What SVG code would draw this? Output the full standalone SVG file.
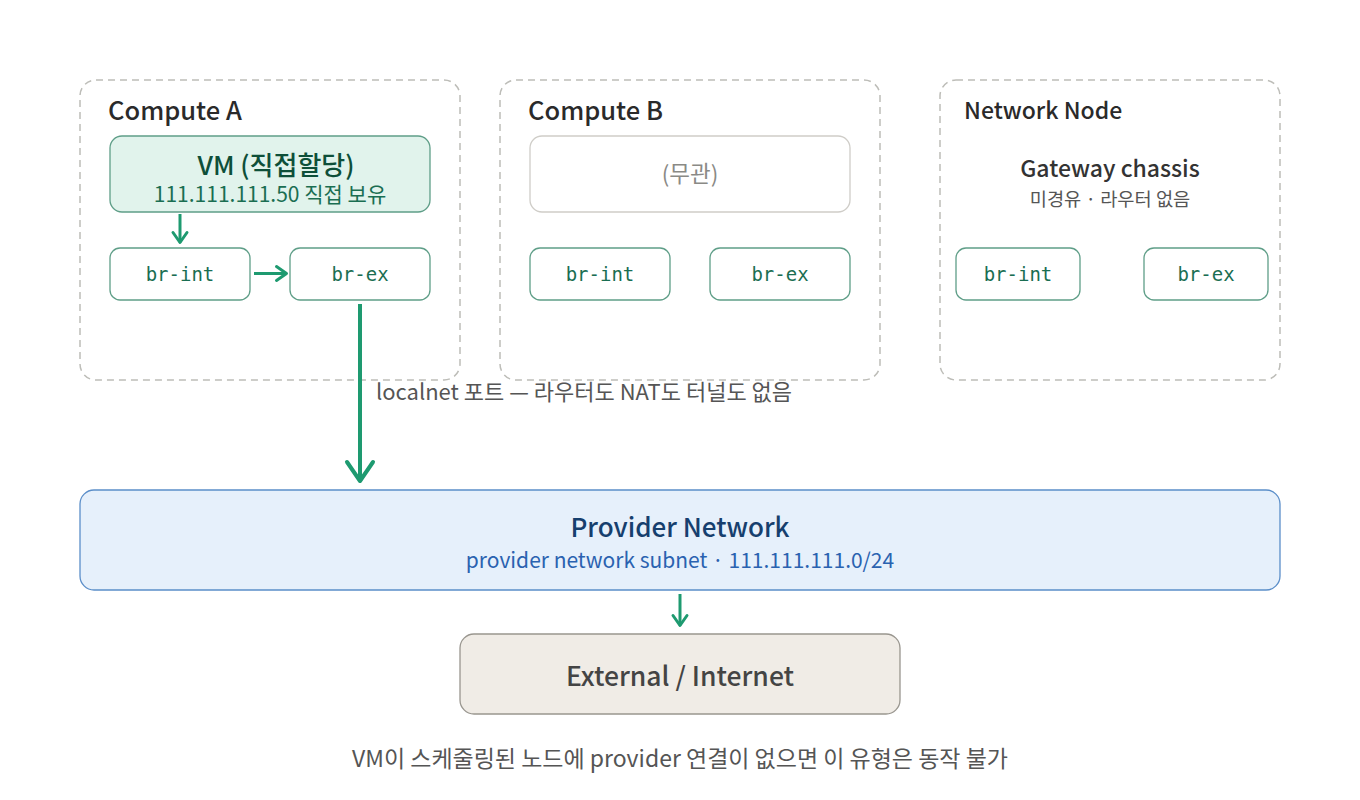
<svg xmlns="http://www.w3.org/2000/svg" width="1360" height="800" viewBox="0 0 1360 800">
<defs>
<style>
text{font-family:"Noto Sans CJK KR","Noto Sans",sans-serif}
.cont{fill:#fff;stroke:#bdbdb8;stroke-width:1.5;stroke-dasharray:7 5}
.title{font-size:25.5px;fill:#2a2a2a;font-weight:500}
.br{fill:#fff;stroke:#5f9e88;stroke-width:1.3}
.mono{font-family:"DejaVu Sans Mono",monospace;font-size:19px;fill:#1a6e52;text-anchor:middle}
.edge{stroke:#1e9a70;fill:none;stroke-linecap:butt}
.head{fill:none;stroke:#1e9a70;stroke-linecap:round;stroke-linejoin:round}
</style>
<marker id="ah" viewBox="-14 -10 16 20" refX="0" refY="0" markerWidth="16" markerHeight="20" orient="auto" markerUnits="userSpaceOnUse">
<path class="head" d="M-10,-7 L0,0 L-10,7" stroke-width="3"/>
</marker>
<marker id="ahBig" viewBox="-24 -17 28 34" refX="0" refY="0" markerWidth="28" markerHeight="34" orient="auto" markerUnits="userSpaceOnUse">
<path class="head" d="M-19,-13 L0,0 L-19,13" stroke-width="4"/>
</marker>
</defs>
<rect width="1360" height="800" fill="#fff"/>

<g id="compute-a">
<rect class="cont" x="80" y="80" width="380" height="300" rx="16"/>
<text class="title" x="108" y="120">Compute A</text>
</g>
<g id="vm">
<rect x="110" y="136" width="320" height="76" rx="12" fill="#e1f3ec" stroke="#5f9e88" stroke-width="1.3"/>
<text x="276" y="175" text-anchor="middle" font-size="26" fill="#0e4f39" font-weight="500">VM (직접할당)</text>
<text x="270" y="201.5" text-anchor="middle" font-size="21" fill="#1a6e52">111.111.111.50 직접 보유</text>
</g>
<g id="a-br-int"><rect class="br" x="110" y="248" width="140" height="52" rx="10"/><text class="mono" x="180" y="281">br-int</text></g>
<g id="a-br-ex"><rect class="br" x="290" y="248" width="140" height="52" rx="10"/><text class="mono" x="360" y="281">br-ex</text></g>

<g id="compute-b">
<rect class="cont" x="500" y="80" width="380" height="300" rx="16"/>
<text class="title" x="528" y="120">Compute B</text>
</g>
<g id="unrelated">
<rect x="530" y="136" width="320" height="76" rx="12" fill="#fff" stroke="#cfcdc8" stroke-width="1.3"/>
<text x="690" y="182" text-anchor="middle" font-size="22.5" fill="#8a8a86">(무관)</text>
</g>
<g id="b-br-int"><rect class="br" x="530" y="248" width="140" height="52" rx="10"/><text class="mono" x="600" y="281">br-int</text></g>
<g id="b-br-ex"><rect class="br" x="710" y="248" width="140" height="52" rx="10"/><text class="mono" x="780" y="281">br-ex</text></g>

<g id="network-node">
<rect class="cont" x="940" y="80" width="340" height="300" rx="16"/>
<text x="964" y="119" font-size="23" fill="#2a2a2a" font-weight="500">Network Node</text>
<text x="1110" y="177" text-anchor="middle" font-size="23" fill="#333" font-weight="500">Gateway chassis</text>
<text x="1110" y="206" text-anchor="middle" font-size="18.7" fill="#555">미경유 · 라우터 없음</text>
</g>
<g id="n-br-int"><rect class="br" x="956" y="248" width="124" height="52" rx="10"/><text class="mono" x="1018" y="281">br-int</text></g>
<g id="n-br-ex"><rect class="br" x="1144" y="248" width="124" height="52" rx="10"/><text class="mono" x="1206" y="281">br-ex</text></g>

<g id="provider">
<rect x="80" y="490" width="1200" height="100" rx="14" fill="#e6f0fb" stroke="#5b8ec9" stroke-width="1.3"/>
<text x="680" y="537" text-anchor="middle" font-size="26" fill="#163f6e" font-weight="500">Provider Network</text>
<text x="680" y="568" text-anchor="middle" font-size="21" fill="#2a62b0">provider network subnet · 111.111.111.0/24</text>
</g>

<g id="external">
<rect x="460" y="634" width="440" height="80" rx="14" fill="#f0ece6" stroke="#99968f" stroke-width="1.3"/>
<text x="680" y="686" text-anchor="middle" font-size="26.5" fill="#444" font-weight="500">External / Internet</text>
</g>

<g id="connectors">
<line class="edge" x1="180" y1="214" x2="180" y2="242.5" stroke-width="3" marker-end="url(#ah)"/>
<line class="edge" x1="254" y1="273.5" x2="286.5" y2="273.5" stroke-width="3" marker-end="url(#ah)"/>
<line class="edge" x1="360" y1="304" x2="360" y2="481" stroke-width="4" marker-end="url(#ahBig)"/>
<line class="edge" x1="680" y1="594" x2="680" y2="625.5" stroke-width="3" marker-end="url(#ah)"/>
<text x="376" y="400" font-size="22" fill="#555">localnet 포트 — 라우터도 NAT도 터널도 없음</text>
</g>

<text x="680" y="767" text-anchor="middle" font-size="23" fill="#555">VM이 스케줄링된 노드에 provider 연결이 없으면 이 유형은 동작 불가</text>
</svg>
